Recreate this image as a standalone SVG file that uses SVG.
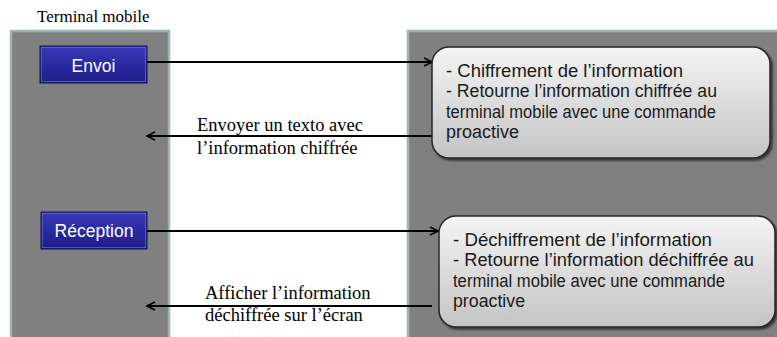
<svg xmlns="http://www.w3.org/2000/svg" width="777" height="337" viewBox="0 0 777 337">
  <style>
    .panel { fill: #808080; stroke: #9cb6b8; stroke-width: 2.5; }
    .btn { fill: url(#btnFill); stroke: #12124f; stroke-width: 1; }
    .btn-hi { fill: none; stroke: #6a6ad8; stroke-width: 1; opacity: 0.7; }
    .btn-text { font-family: "Liberation Sans", Arial, sans-serif; font-size: 17.5px; fill: #ffffff; text-anchor: middle; }
    .box { fill: url(#boxFill); stroke: #262626; stroke-width: 1.5; filter: url(#shadow); }
    .box-text { font-family: "Liberation Sans", Arial, sans-serif; font-size: 17.5px; fill: #1a1a1a; }
    .label { font-family: "Liberation Serif", "Times New Roman", serif; font-size: 18.5px; fill: #000000; }
    .title { font-family: "Liberation Serif", "Times New Roman", serif; font-size: 17px; fill: #000000; }
    .conn { stroke: #000000; stroke-width: 2; fill: none; marker-end: url(#arrow); }
  </style>
  <defs>
    <linearGradient id="btnFill" x1="0" y1="0" x2="0" y2="1">
      <stop offset="0" stop-color="#3a3ab8"/>
      <stop offset="0.5" stop-color="#2a2aa2"/>
      <stop offset="1" stop-color="#1d1d86"/>
    </linearGradient>
    <linearGradient id="boxFill" x1="0" y1="0" x2="0" y2="1">
      <stop offset="0" stop-color="#f4f4f4"/>
      <stop offset="1" stop-color="#c4c4c4"/>
    </linearGradient>
    <filter id="shadow" x="-5%" y="-5%" width="115%" height="120%">
      <feGaussianBlur in="SourceAlpha" stdDeviation="1.2"/>
      <feOffset dx="1.5" dy="2" result="off"/>
      <feComponentTransfer><feFuncA type="linear" slope="0.6"/></feComponentTransfer>
      <feMerge><feMergeNode/><feMergeNode in="SourceGraphic"/></feMerge>
    </filter>
    <marker id="arrow" viewBox="0 0 10 10" refX="9" refY="5" markerWidth="5" markerHeight="5" orient="auto" markerUnits="strokeWidth">
      <path d="M1,1 L9,5 L1,9" fill="none" stroke="#000000" stroke-width="1.6"/>
    </marker>
  </defs>

  <rect width="777" height="337" fill="#ffffff"/>

  <text class="title" x="37" y="22">Terminal mobile</text>

  <!-- lanes -->
  <g id="terminal-lane">
    <rect class="panel" x="11" y="31" width="158" height="320"/>
  </g>
  <g id="card-lane">
    <rect class="panel" x="408" y="31" width="380" height="320"/>
  </g>

  <!-- connectors -->
  <g id="connectors">
    <line class="conn" x1="147" y1="62" x2="432" y2="62"/>
    <line class="conn" x1="432" y1="136" x2="147" y2="136"/>
    <line class="conn" x1="147" y1="231" x2="438" y2="231"/>
    <line class="conn" x1="432" y1="306" x2="147" y2="306"/>
    <text class="label" x="197" y="131">Envoyer un texto avec</text>
    <text class="label" x="197" y="154">l’information chiffrée</text>
    <text class="label" x="205" y="299">Afficher l’information</text>
    <text class="label" x="205" y="321">déchiffrée sur l’écran</text>
  </g>

  <g id="envoi">
    <rect class="btn" x="40" y="46" width="107" height="37"/>
    <rect class="btn-hi" x="41.5" y="47.5" width="104" height="34"/>
    <text class="btn-text" x="93.5" y="71.5">Envoi</text>
  </g>

  <g id="reception">
    <rect class="btn" x="41" y="212" width="106" height="37"/>
    <rect class="btn-hi" x="42.5" y="213.5" width="103" height="34"/>
    <text class="btn-text" x="94" y="237">Réception</text>
  </g>

  <g id="chiffrement">
    <rect class="box" x="432" y="47" width="338" height="111" rx="17"/>
    <text class="box-text" x="446" y="76.5" textLength="237" lengthAdjust="spacingAndGlyphs">- Chiffrement de l’information</text>
    <text class="box-text" x="446" y="97" textLength="271" lengthAdjust="spacingAndGlyphs">- Retourne l’information chiffrée au</text>
    <text class="box-text" x="446" y="117.5" textLength="270" lengthAdjust="spacingAndGlyphs">terminal mobile avec une commande</text>
    <text class="box-text" x="446" y="137.5" textLength="73" lengthAdjust="spacingAndGlyphs">proactive</text>
  </g>

  <g id="dechiffrement">
    <rect class="box" x="439" y="216" width="336" height="111" rx="17"/>
    <text class="box-text" x="453" y="245.5" textLength="259" lengthAdjust="spacingAndGlyphs">- Déchiffrement de l’information</text>
    <text class="box-text" x="453" y="266" textLength="301" lengthAdjust="spacingAndGlyphs">- Retourne l’information déchiffrée au</text>
    <text class="box-text" x="453" y="286.5" textLength="272" lengthAdjust="spacingAndGlyphs">terminal mobile avec une commande</text>
    <text class="box-text" x="453" y="306.5" textLength="72" lengthAdjust="spacingAndGlyphs">proactive</text>
  </g>
</svg>
